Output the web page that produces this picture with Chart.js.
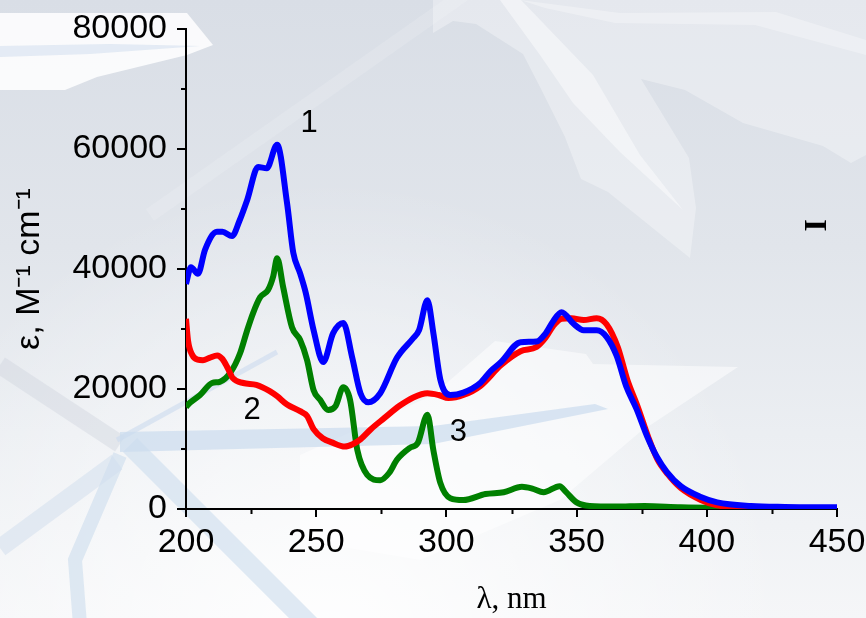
<!DOCTYPE html>
<html>
<head>
<meta charset="utf-8">
<script src="https://cdn.jsdelivr.net/npm/chart.js@4.4.1/dist/chart.umd.min.js"></script>
<style>
  html, body { margin: 0; padding: 0; background: #e6e9ee; }
  canvas { display: block; }
</style>
</head>
<body>
<canvas id="c" width="866" height="618"></canvas>
<script>
// Absorption spectra: wavelength (nm) and molar absorptivity (M^-1 cm^-1)
const wl1  = [200, 201.9, 204.6, 207.3, 211.9, 214, 217.7, 220.5, 223.5, 227.7, 231, 235, 238.8, 241.2, 243.8, 246, 249, 252.7, 256.5, 260.4, 263.8, 267, 270, 274.6, 281, 287.3, 289.5, 292.7, 295, 297.7, 301.5, 306.5, 313, 317, 321, 328.5, 334.6, 338, 341, 344.2, 349, 352.7, 357.7, 361.5, 365.4, 369, 373, 377, 380.8, 384.6, 390, 397.7, 404, 417, 430, 450];
const eps1 = [37500, 40300, 39200, 43200, 46200, 46200, 45500, 48000, 51500, 57000, 56800, 60700, 51000, 42700, 39300, 36000, 29800, 24500, 29300, 31000, 25300, 19300, 17800, 19300, 25200, 28500, 29800, 34800, 29300, 21500, 19000, 19400, 21000, 23000, 24500, 27800, 27900, 29200, 31300, 32800, 30800, 29800, 29800, 28700, 25500, 20500, 16700, 12200, 8700, 6200, 3800, 2000, 1100, 500, 350, 300];

const wl2  = [200, 200.8, 202.5, 204.5, 206.5, 209, 212, 214, 216, 218, 222, 227, 232, 235, 238.8, 243.8, 246.5, 249, 252.5, 256, 261, 264, 267, 271, 276, 282, 287.3, 292.7, 297, 300.8, 306.5, 313, 321, 328.5, 334.6, 338, 341, 344.2, 348, 352.7, 357.7, 361.5, 365.8, 369.5, 373.5, 377.5, 381, 385, 390, 397.7, 404, 417, 430, 450];
const eps2 = [31700, 28000, 25600, 24900, 24800, 25200, 25600, 25000, 23500, 21800, 21000, 20700, 19700, 18800, 17400, 16300, 15500, 13300, 11800, 11100, 10400, 10800, 11600, 13300, 15100, 17200, 18600, 19300, 19000, 18500, 19000, 20500, 24000, 26300, 27000, 28500, 30500, 31700, 31800, 31500, 31800, 30800, 27000, 21500, 17000, 12000, 8300, 5800, 3500, 1500, 600, 200, 100, 100];

const wl3  = [200, 201.5, 205.4, 210, 213, 217, 220.8, 223.5, 225.8, 228.5, 231.5, 233.5, 235, 237.3, 240.7, 243.8, 246.5, 249, 251.5, 254.6, 257.5, 260.4, 263, 265.8, 269.6, 274.6, 278, 281, 286, 289, 292.7, 295, 297.7, 301.5, 306.5, 315, 322, 329, 333, 337.3, 343.5, 346, 350, 355, 365, 376, 390, 410, 450];
const eps3 = [17000, 17700, 19000, 21000, 21200, 22700, 26000, 29800, 32700, 35300, 36500, 38800, 41800, 37000, 30300, 28200, 24800, 19800, 18200, 16500, 17200, 20300, 18200, 9800, 5700, 4800, 6000, 8200, 10200, 11000, 15700, 9800, 4300, 1800, 1500, 2500, 2800, 3700, 3400, 2800, 3800, 2800, 1100, 500, 400, 500, 300, 200, 100];

// Axis ticks
const xMajor = [200, 250, 300, 350, 400, 450];
const xMinor = [225, 275, 325, 375, 425];
const yMajor = [0, 20000, 40000, 60000, 80000];
const yMinor = [10000, 30000, 50000, 70000];

// Curve labels placed in data coordinates
const curveLabels = [
  { text: '1', x: 247.3, y: 64300 },
  { text: '2', x: 225.4, y: 16500 },
  { text: '3', x: 304.6, y: 12800 }
];

const pts = (xs, ys) => xs.map((x, i) => ({ x, y: ys[i] }));

const SANS = '"Liberation Sans", Arial, sans-serif';
const SERIF = '"Liberation Serif", "Times New Roman", serif';

// Decorative backdrop
function poly(ctx, p, fill) {
  ctx.beginPath();
  ctx.moveTo(p[0][0], p[0][1]);
  for (let i = 1; i < p.length; i++) ctx.lineTo(p[i][0], p[i][1]);
  ctx.closePath();
  ctx.fillStyle = fill;
  ctx.fill();
}
function band(ctx, p, w, stroke) {
  ctx.beginPath();
  ctx.moveTo(p[0][0], p[0][1]);
  for (let i = 1; i < p.length; i++) ctx.lineTo(p[i][0], p[i][1]);
  ctx.lineWidth = w;
  ctx.lineJoin = 'miter';
  ctx.lineCap = 'butt';
  ctx.strokeStyle = stroke;
  ctx.stroke();
}

const backdrop = {
  id: 'backdrop',
  beforeDraw(chart) {
    const { ctx, width: w, height: h } = chart;
    ctx.save();
    const g = ctx.createLinearGradient(0, 0, 0, h);
    g.addColorStop(0, '#d9dee6');
    g.addColorStop(0.4, '#e1e5eb');
    g.addColorStop(0.7, '#ebeef2');
    g.addColorStop(1, '#f5f6f8');
    ctx.fillStyle = g;
    ctx.fillRect(0, 0, w, h);

    const r = ctx.createRadialGradient(330, 640, 20, 330, 640, 460);
    r.addColorStop(0, 'rgba(255,255,255,0.85)');
    r.addColorStop(1, 'rgba(255,255,255,0)');
    ctx.fillStyle = r;
    ctx.fillRect(0, 0, w, h);

    // upper left white sheet
    poly(ctx, [[0,13],[187,13],[213,45],[187,55],[97,77],[65,90],[0,90]], 'rgba(255,255,255,0.85)');
    poly(ctx, [[0,46],[110,44],[200,46],[90,54],[0,57]], 'rgba(205,220,238,0.5)');

    // upper right sheets
    poly(ctx, [[433,33],[453,21],[476,24],[523,54],[540,87],[565,137],[581,179],[608,192],[690,258],[696,208],[689,158],[641,79],[685,90],[743,123],[823,146],[851,163],[866,155],[866,0],[433,0]], 'rgba(255,255,255,0.32)');
    poly(ctx, [[500,0],[521,0],[593,75],[640,155],[683,210],[620,152],[573,103],[540,55]], 'rgba(255,255,255,0.45)');
    poly(ctx, [[520,0],[620,13],[776,12],[866,40],[866,55],[755,25],[615,23],[545,8]], 'rgba(255,255,255,0.3)');
    band(ctx, [[470,-10],[150,215]], 14, 'rgba(255,255,255,0.14)');

    // lower white sheet
    poly(ctx, [[300,455],[433,395],[495,341],[586,354],[593,364],[738,367],[640,432],[560,500],[420,560],[300,540]], 'rgba(255,255,255,0.5)');

    // grey and blue streaks, lower left
    band(ctx, [[0,365],[120,444]], 18, 'rgba(205,210,219,0.4)');
    band(ctx, [[117,462],[0,548]], 18, 'rgba(214,225,238,0.6)');
    band(ctx, [[120,455],[75,560],[80,625]], 14, 'rgba(208,222,238,0.65)');
    band(ctx, [[130,445],[310,625]], 20, 'rgba(208,222,238,0.65)');
    band(ctx, [[117,440],[277,352]], 5, 'rgba(203,219,238,0.6)');
    poly(ctx, [[120,432],[433,426],[595,404],[608,409],[433,444],[120,452]], 'rgba(203,219,238,0.7)');
    ctx.restore();
  }
};

// Minor ticks, curve numbers and side mark
const extras = {
  id: 'extras',
  afterDraw(chart) {
    const { ctx, scales: { x, y } } = chart;
    ctx.save();
    ctx.strokeStyle = '#000';
    ctx.lineWidth = 2;
    ctx.beginPath();
    for (const v of xMinor) {
      const px = Math.round(x.getPixelForValue(v)) + 0.5;
      ctx.moveTo(px, y.bottom);
      ctx.lineTo(px, y.bottom + 5);
    }
    for (const v of yMinor) {
      const py = Math.round(y.getPixelForValue(v));
      ctx.moveTo(x.left, py);
      ctx.lineTo(x.left - 5, py);
    }
    ctx.stroke();

    ctx.fillStyle = '#000';
    ctx.font = '31px ' + SANS;
    ctx.textAlign = 'center';
    ctx.textBaseline = 'middle';
    for (const l of curveLabels) {
      ctx.fillText(l.text, x.getPixelForValue(l.x), y.getPixelForValue(l.y));
    }

    ctx.translate(x.getPixelForValue(442.7), y.getPixelForValue(47300));
    ctx.rotate(-Math.PI / 2);
    ctx.font = 'bold 32px ' + SERIF;
    ctx.fillText('I', 0, 0);
    ctx.restore();
  }
};

new Chart(document.getElementById('c'), {
  type: 'line',
  data: {
    datasets: [
      { label: '1', data: pts(wl1, eps1), borderColor: '#0000ff', order: 0 },
      { label: '2', data: pts(wl2, eps2), borderColor: '#ff0000', order: 1 },
      { label: '3', data: pts(wl3, eps3), borderColor: '#008000', order: 2 }
    ]
  },
  options: {
    responsive: false,
    animation: false,
    events: [],
    layout: { padding: { left: 0, top: 29, right: 29, bottom: 0 } },
    elements: {
      point: { radius: 0 },
      line: { borderWidth: 6, cubicInterpolationMode: 'monotone', borderJoinStyle: 'round', fill: false }
    },
    plugins: { legend: { display: false }, tooltip: { enabled: false } },
    scales: {
      x: {
        type: 'linear',
        min: 200, max: 450,
        afterFit(s) { s.height = 109; s.paddingLeft = 0; s.paddingRight = 0; },
        afterBuildTicks(s) { s.ticks = xMajor.map(v => ({ value: v })); },
        ticks: { color: '#000', font: { family: SANS, size: 34 }, padding: 5, maxRotation: 0, callback: v => String(v) },
        grid: { drawOnChartArea: false, drawTicks: true, tickLength: 8, color: '#000', lineWidth: 2 },
        border: { display: true, color: '#000', width: 2 },
        title: { display: true, text: 'λ, nm', color: '#000', font: { family: SERIF, size: 31 }, padding: { top: 0, bottom: 0 } }
      },
      y: {
        min: 0, max: 80000,
        afterFit(s) { s.width = 186; s.paddingTop = 0; s.paddingBottom = 0; },
        afterBuildTicks(s) { s.ticks = yMajor.map(v => ({ value: v })); },
        ticks: { color: '#000', font: { family: SANS, size: 34 }, padding: 10, callback: v => String(v) },
        grid: { drawOnChartArea: false, drawTicks: true, tickLength: 9, color: '#000', lineWidth: 2 },
        border: { display: true, color: '#000', width: 2 },
        title: { display: true, text: 'ε, M⁻¹ cm⁻¹', color: '#000', font: { family: SANS, size: 34 }, padding: { top: 9, bottom: 0 } }
      }
    }
  },
  plugins: [backdrop, extras]
});
</script>
</body>
</html>
